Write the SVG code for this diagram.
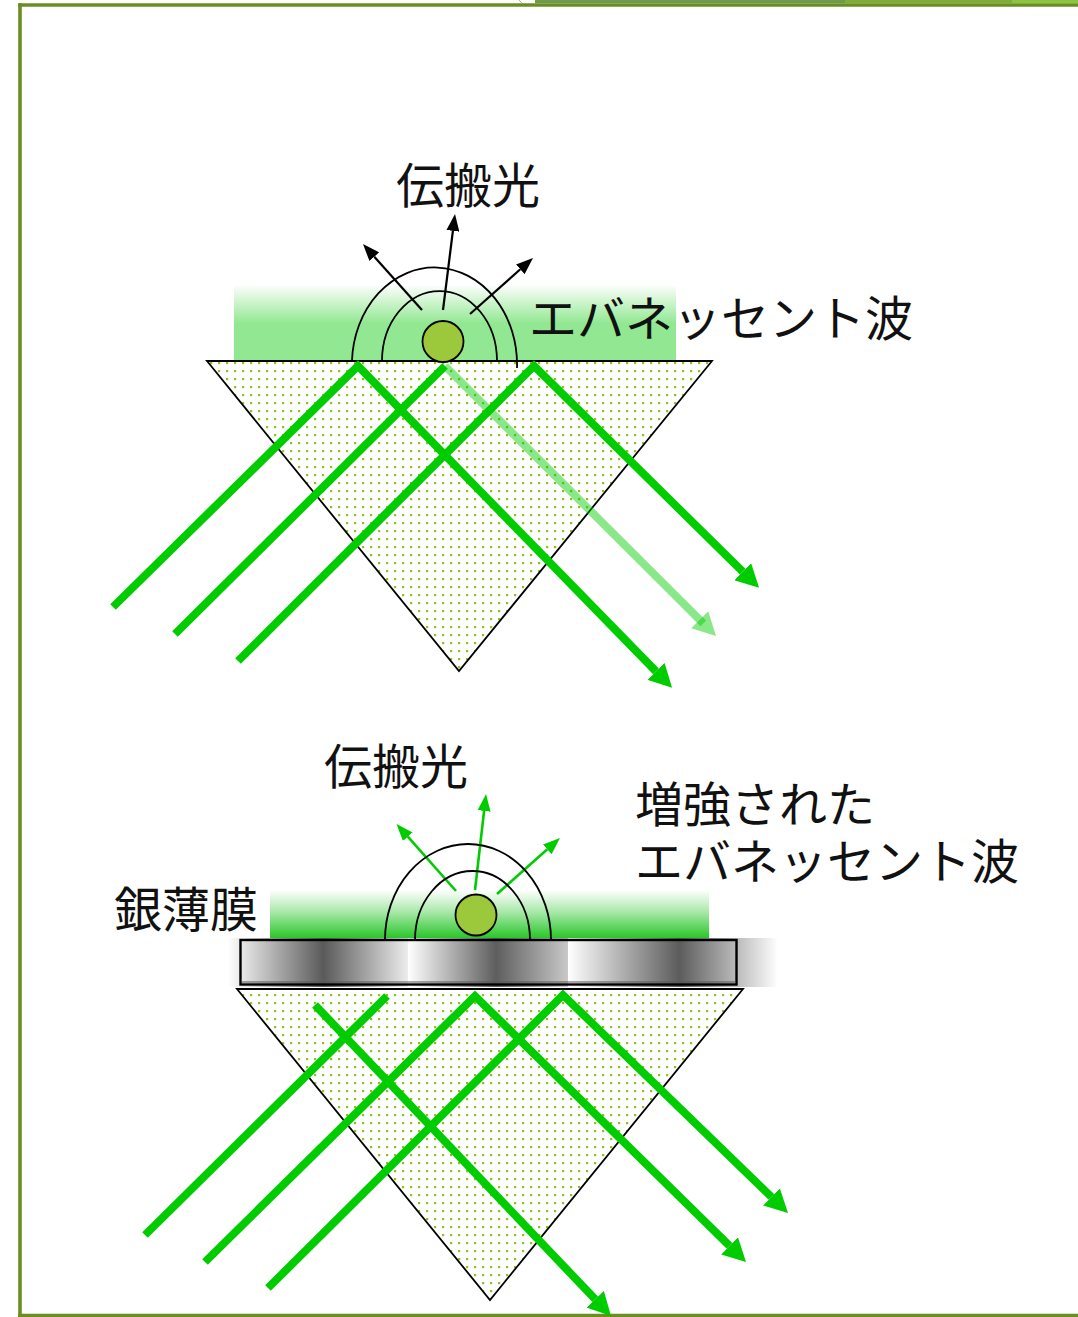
<svg xmlns="http://www.w3.org/2000/svg" width="1078" height="1317" viewBox="0 0 1078 1317">
  <defs>
    <style>
      .label { font-family: "Noto Sans CJK JP", "Noto Sans", sans-serif; font-size: 48px; fill: #111; }
      .prism { fill: url(#dots); stroke: #000; stroke-width: 1.8; stroke-linejoin: miter; }
      .beam { fill: none; stroke: #00cc00; stroke-width: 8; stroke-linejoin: miter; stroke-miterlimit: 10; }
      .beam-arrow { marker-end: url(#headGreen); }
      .wave { fill: none; stroke: #000; stroke-width: 1.8; }
      .particle { fill: #9bc93b; stroke: #000; stroke-width: 1.8; }
      .ray-black { fill: none; stroke: #000; stroke-width: 2.2; marker-end: url(#headBlack); }
      .ray-green { fill: none; stroke: #00cc00; stroke-width: 2.6; marker-end: url(#headSmallGreen); }
      .frame { stroke: #6b8e23; stroke-width: 3.6; fill: none; }
    </style>
    <!-- dotted fill of the glass prisms -->
    <pattern id="dots" width="8" height="8" patternUnits="userSpaceOnUse">
      <rect width="8" height="8" fill="#ffffff"/>
      <rect x="2" y="2" width="2.2" height="2.2" fill="#8cc21a"/>
    </pattern>
    <!-- evanescent field above the prism surface -->
    <linearGradient id="fieldTop" x1="0" y1="0" x2="0" y2="1">
      <stop offset="0" stop-color="#92e892" stop-opacity="0.05"/>
      <stop offset="0.5" stop-color="#92e892" stop-opacity="1"/>
      <stop offset="1" stop-color="#92e892" stop-opacity="1"/>
    </linearGradient>
    <linearGradient id="fieldBottom" x1="0" y1="0" x2="0" y2="1">
      <stop offset="0" stop-color="#20c420" stop-opacity="0"/>
      <stop offset="0.45" stop-color="#20c420" stop-opacity="0.4"/>
      <stop offset="1" stop-color="#20c420" stop-opacity="1"/>
    </linearGradient>
    <!-- metallic sheen of the silver film -->
    <linearGradient id="silver1" gradientUnits="userSpaceOnUse" x1="228" y1="0" x2="408" y2="0">
      <stop offset="0" stop-color="#ffffff"/>
      <stop offset="0.53" stop-color="#5a5a5a"/>
      <stop offset="1" stop-color="#ececec"/>
    </linearGradient>
    <linearGradient id="silver2" gradientUnits="userSpaceOnUse" x1="408" y1="0" x2="568" y2="0">
      <stop offset="0" stop-color="#ffffff"/>
      <stop offset="0.55" stop-color="#5e5e5e"/>
      <stop offset="1" stop-color="#c8c8c8"/>
    </linearGradient>
    <linearGradient id="silver3" gradientUnits="userSpaceOnUse" x1="568" y1="0" x2="778" y2="0">
      <stop offset="0" stop-color="#ffffff"/>
      <stop offset="0.53" stop-color="#5c5c5c"/>
      <stop offset="1" stop-color="#ffffff"/>
    </linearGradient>
    <marker id="headGreen" markerUnits="userSpaceOnUse" viewBox="0 0 23 24" markerWidth="23" markerHeight="24" refX="0" refY="12" orient="auto">
      <path d="M0,0 L23,12 L0,24 Z" fill="#00cc00"/>
    </marker>
    <marker id="headBlack" markerUnits="userSpaceOnUse" viewBox="0 0 17 13" markerWidth="17" markerHeight="13" refX="0" refY="6.5" orient="auto">
      <path d="M0,0 L17,6.5 L0,13 Z" fill="#000"/>
    </marker>
    <marker id="headSmallGreen" markerUnits="userSpaceOnUse" viewBox="0 0 17 13" markerWidth="17" markerHeight="13" refX="0" refY="6.5" orient="auto">
      <path d="M0,0 L17,6.5 L0,13 Z" fill="#00cc00"/>
    </marker>
  </defs>

  <rect width="1078" height="1317" fill="#ffffff"/>

  <!-- slide frame -->
  <g id="frame">
    <rect x="535" y="0" width="310" height="3.2" fill="#6f9a4c"/>
    <rect x="845" y="0" width="167" height="3.2" fill="#7fae36"/>
    <rect x="1012" y="0" width="66" height="3.2" fill="#8cc63f"/>
    <line x1="519" y1="0" x2="522" y2="3.2" stroke="#b0b0b0" stroke-width="1"/>
    <line class="frame" x1="18.2" y1="5" x2="1078" y2="5"/>
    <line class="frame" x1="20" y1="3.2" x2="20" y2="1317"/>
    <line class="frame" x1="18.2" y1="1315.5" x2="1078" y2="1315.5"/>
  </g>

  <!-- upper panel: total internal reflection -->
  <g id="field-top">
    <rect x="234" y="286" width="442" height="75" fill="url(#fieldTop)"/>
  </g>
  <g id="prism-top">
    <polygon class="prism" points="207,361 712,361 459,671"/>
  </g>

  <!-- lower panel: silver film on prism -->
  <g id="field-bottom">
    <rect x="270" y="890" width="439" height="50" fill="url(#fieldBottom)"/>
  </g>
  <g id="silver-film">
    <rect x="228" y="938" width="180" height="49" fill="url(#silver1)"/>
    <rect x="408" y="938" width="160" height="49" fill="url(#silver2)"/>
    <rect x="568" y="938" width="210" height="49" fill="url(#silver3)"/>
    <rect x="240.5" y="940" width="496" height="44.5" fill="none" stroke="#000" stroke-width="2.4"/>
    <line x1="241.5" y1="982" x2="735.5" y2="982" stroke="#555" stroke-width="1"/>
  </g>
  <g id="prism-bottom">
    <polygon class="prism" points="237,989 743,989 490,1300"/>
  </g>

  <!-- light beams -->
  <g id="connectors">
    <polyline class="beam beam-arrow" points="113,607 358,366 656,671.4"/>
    <line class="beam" x1="175" y1="634" x2="445" y2="366"/>
    <line x1="445" y1="366" x2="703.3" y2="623.3" stroke="#00cc00" stroke-opacity="0.46" stroke-width="8"/>
    <path d="M0,0 L23,12 L0,24 Z" fill="#00cc00" fill-opacity="0.46" transform="translate(716,636) rotate(45.1) translate(-23,-12)"/>
    <polyline class="beam beam-arrow" points="238,661 534,366 742.7,571.7"/>

    <line class="beam" x1="145" y1="1235" x2="387" y2="996"/>
    <line class="beam beam-arrow" x1="315" y1="1005" x2="595.2" y2="1299.3"/>
    <polyline class="beam beam-arrow" points="205,1262 475,996 729.6,1245.9"/>
    <polyline class="beam beam-arrow" points="268,1288 563,995 771.5,1197"/>

    <!-- scattered light from the particles -->
    <line class="ray-black" x1="422" y1="310" x2="374.3" y2="256.7"/>
    <line class="ray-black" x1="443" y1="310" x2="452.9" y2="230.9"/>
    <line class="ray-black" x1="470" y1="314" x2="520.3" y2="269.3"/>

    <line class="ray-green" x1="456" y1="891" x2="407.8" y2="836.7"/>
    <line class="ray-green" x1="475" y1="890" x2="484.1" y2="810.9"/>
    <line class="ray-green" x1="497" y1="894" x2="547.3" y2="849.3"/>
  </g>

  <!-- scatterers with their wavefronts -->
  <g id="particle-top">
    <path class="wave" d="M382,361 A57.5,70 0 0 1 497,361"/>
    <path class="wave" d="M352,361 A82.5,97 0 0 1 517,368"/>
    <circle class="particle" cx="443" cy="341.5" r="20.5"/>
  </g>
  <g id="particle-bottom">
    <path class="wave" d="M415,940 A57.5,69 0 0 1 530,940"/>
    <path class="wave" d="M385,940 A83,96 0 0 1 551,940"/>
    <circle class="particle" cx="476" cy="915" r="20.5"/>
  </g>

  <!-- labels -->
  <g id="label-propagating-top"><text class="label" x="396" y="203">伝搬光</text></g>
  <g id="label-evanescent-top"><text class="label" x="529" y="336">エバネッセント波</text></g>
  <g id="label-propagating-bottom"><text class="label" x="324" y="784">伝搬光</text></g>
  <g id="label-enhanced"><text class="label" x="635" y="822">増強された</text><text class="label" x="635" y="879">エバネッセント波</text></g>
  <g id="label-silver"><text class="label" x="114" y="927">銀薄膜</text></g>
</svg>
